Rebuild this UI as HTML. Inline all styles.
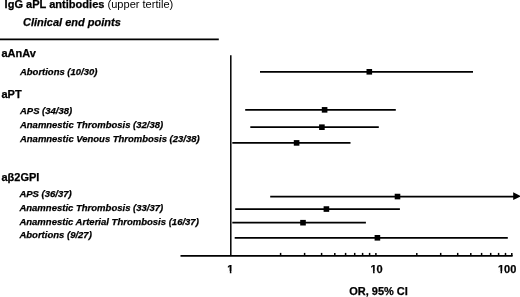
<!DOCTYPE html>
<html><head><meta charset="utf-8"><title>Forest plot</title>
<style>
html,body{margin:0;padding:0;background:#fff;}
svg{display:block;}
text{font-family:"Liberation Sans",sans-serif;fill:#000;}
.b{font-weight:bold;stroke:#000;stroke-width:0.25px;}
.bi{font-weight:bold;font-style:italic;stroke:#000;stroke-width:0.25px;}
</style></head>
<body>
<svg width="520" height="297" viewBox="0 0 520 297" xmlns="http://www.w3.org/2000/svg">
<rect width="520" height="297" fill="#fff"/>
<text x="4.6" y="7.8" font-size="11.05"><tspan class="b">IgG aPL antibodies</tspan> (upper tertile)</text>
<text x="23" y="25.5" font-size="11" class="bi">Clinical end points</text>
<line x1="0" y1="39.4" x2="218.8" y2="39.4" stroke="#000" stroke-width="1.7"/>
<text x="1.5" y="56.8" font-size="11" class="b">aAnAv</text>
<text x="20" y="75" font-size="9.48" class="bi">Abortions (10/30)</text>
<text x="1.5" y="98.200" font-size="11" class="b">aPT</text>
<text x="20" y="113.6" font-size="9.48" class="bi">APS (34/38)</text>
<text x="20" y="128.4" font-size="9.48" class="bi">Anamnestic Thrombosis (32/38)</text>
<text x="20" y="142.3" font-size="9.48" class="bi">Anamnestic Venous Thrombosis (23/38)</text>
<text x="1.5" y="181" font-size="11" class="b">aβ2GPI</text>
<text x="19.4" y="196.8" font-size="9.53" class="bi">APS (36/37)</text>
<text x="19.4" y="211.1" font-size="9.53" class="bi">Anamnestic Thrombosis (33/37)</text>
<text x="19.4" y="224.6" font-size="9.53" class="bi">Anamnestic Arterial Thrombosis (16/37)</text>
<text x="19.4" y="238.2" font-size="9.53" class="bi">Abortions (9/27)</text>
<line x1="230.8" y1="55.2" x2="230.8" y2="256" stroke="#000" stroke-width="1.5"/>
<line x1="180.5" y1="255.9" x2="512.6" y2="255.9" stroke="#000" stroke-width="1.6"/>
<g stroke="#000" stroke-width="1.5"><line x1="280.6" y1="252.9" x2="280.6" y2="256"/><line x1="304.6" y1="252.9" x2="304.6" y2="256"/><line x1="321.6" y1="252.9" x2="321.6" y2="256"/><line x1="334.8" y1="252.9" x2="334.8" y2="256"/><line x1="345.6" y1="252.9" x2="345.6" y2="256"/><line x1="354.7" y1="252.9" x2="354.7" y2="256"/><line x1="362.6" y1="252.9" x2="362.6" y2="256"/><line x1="369.6" y1="252.9" x2="369.6" y2="256"/><line x1="375.9" y1="252.9" x2="375.9" y2="256"/><line x1="416.8" y1="252.9" x2="416.8" y2="256"/><line x1="440.7" y1="252.9" x2="440.7" y2="256"/><line x1="457.7" y1="252.9" x2="457.7" y2="256"/><line x1="470.8" y1="252.9" x2="470.8" y2="256"/><line x1="481.6" y1="252.9" x2="481.6" y2="256"/><line x1="490.7" y1="252.9" x2="490.7" y2="256"/><line x1="498.6" y1="252.9" x2="498.6" y2="256"/><line x1="505.5" y1="252.9" x2="505.5" y2="256"/><line x1="511.8" y1="252.9" x2="511.8" y2="256"/></g>
<g stroke="#000" stroke-width="1.7"><line x1="260" y1="71.8" x2="473" y2="71.8"/><line x1="245.2" y1="109.85" x2="395.8" y2="109.85"/><line x1="250.3" y1="127.2" x2="378.8" y2="127.2"/><line x1="232.3" y1="142.9" x2="350.5" y2="142.9"/><line x1="270.2" y1="196.55" x2="514" y2="196.55"/><line x1="235.2" y1="209.05" x2="399.9" y2="209.05"/><line x1="232.3" y1="222.7" x2="365.9" y2="222.7"/><line x1="234.7" y1="237.8" x2="507.8" y2="237.8"/></g>
<g fill="#000"><rect x="366.50" y="69.00" width="5.6" height="5.6"/><rect x="321.80" y="107.05" width="5.6" height="5.6"/><rect x="319.10" y="124.40" width="5.6" height="5.6"/><rect x="293.80" y="140.10" width="5.6" height="5.6"/><rect x="394.70" y="193.75" width="5.6" height="5.6"/><rect x="323.60" y="206.25" width="5.6" height="5.6"/><rect x="300.20" y="219.90" width="5.6" height="5.6"/><rect x="374.60" y="235.00" width="5.6" height="5.6"/><polygon points="521,196.3 513.2,192.3 513.2,199.9"/></g>
<text x="227.3" y="272.9" font-size="11" class="b">1</text><rect x="227.09" y="271.08" width="2.77" height="3.22" fill="#fff"/><rect x="231.38" y="271.08" width="2.63" height="3.22" fill="#fff"/><text x="370.5" y="272.9" font-size="11" class="b">10</text><rect x="370.29" y="271.08" width="2.77" height="3.22" fill="#fff"/><rect x="374.58" y="271.08" width="2.63" height="3.22" fill="#fff"/><text x="498" y="272.9" font-size="11" class="b">100</text><rect x="497.79" y="271.08" width="2.77" height="3.22" fill="#fff"/><rect x="502.08" y="271.08" width="2.63" height="3.22" fill="#fff"/>
<text x="349.2" y="295.3" font-size="11" class="b">OR, 95% CI</text>
</svg>
</body></html>
